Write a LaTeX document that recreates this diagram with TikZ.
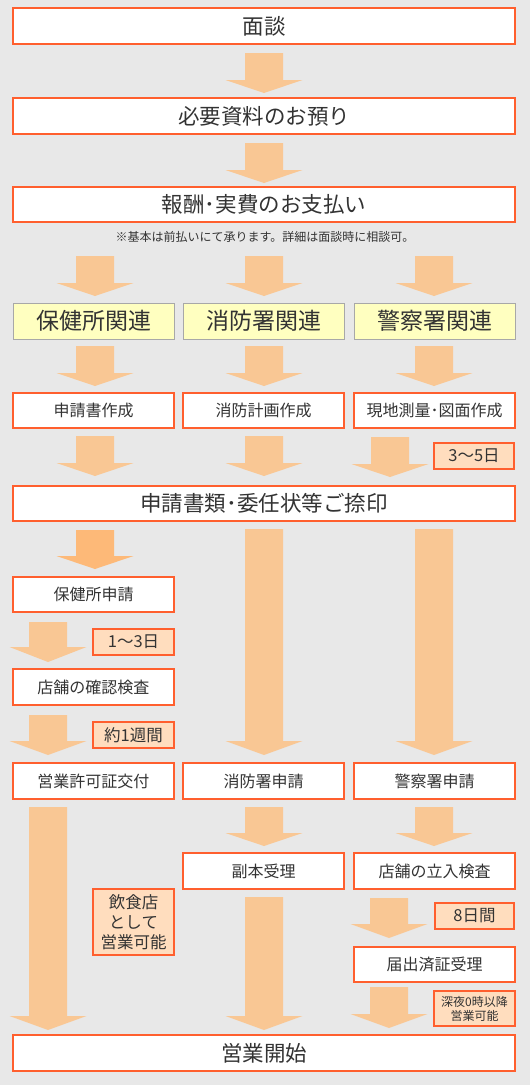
\documentclass[tikz,border=0pt]{standalone}
\usepackage{fontspec}
\setmainfont{Noto Sans CJK JP}
\definecolor{bg}{HTML}{E8E8E8}
\definecolor{bord}{HTML}{FF5F2E}
\definecolor{arr}{HTML}{F9C794}
\definecolor{arrdark}{HTML}{FDB978}
\definecolor{peach}{HTML}{FFDDBE}
\definecolor{yel}{HTML}{FFFFC0}
\definecolor{ygray}{HTML}{A8A8A8}
\definecolor{txt}{HTML}{333333}
\newcommand{\barrow}[5][arr]{%
  \fill[#1] ({#2-19},#3) -- ({#2+19},#3) -- ({#2+19},#4) -- ({#2+38.5},#4) -- (#2,#5) -- ({#2-38.5},#4) -- ({#2-19},#4) -- cycle;}
\newcommand{\bx}[7]{%
  \node[#6, minimum width={#4-#2}, minimum height={#5-#3}] (#1) at ({(#2+#4)/2},{(#3+#5)/2}) {#7};}
\begin{document}
\begin{tikzpicture}[x=1pt,y=-1pt,
  box/.style={draw=bord, fill=white, line width=1.1pt, inner sep=0pt, text=txt, font=\fontsize{16}{18}\selectfont},
  bigbox/.style={box, font=\fontsize{21.5}{24}\selectfont},
  ybox/.style={draw=ygray, fill=yel, line width=1pt, inner sep=0pt, text=black!80, font=\fontsize{23}{26}\selectfont},
  tag/.style={box, fill=peach, align=center, font=\fontsize{16.5}{20}\selectfont},
  note/.style={text=txt, inner sep=0pt, font=\fontsize{12}{14}\selectfont}]
\fill[bg] (0,0) rectangle (530,1085);
\useasboundingbox (0,0) rectangle (530,1085);
% arrows
\barrow{264}{53}{80}{93}
\barrow{264}{143}{170}{183}
\barrow{95}{256}{283}{296}
\barrow{264}{256}{283}{296}
\barrow{434}{256}{283}{296}
\barrow{95}{346}{373}{386}
\barrow{264}{346}{373}{386}
\barrow{434}{346}{373}{386}
\barrow{95}{436}{463}{476}
\barrow{264}{436}{463}{476}
\barrow{390}{437}{464}{477}
\barrow[arrdark]{95}{530}{556}{569}
\barrow{48}{622}{647}{662}
\barrow{48}{715}{741}{755}
\barrow{264}{529}{741}{755}
\barrow{434}{529}{741}{755}
\barrow{48}{807}{1016}{1030}
\barrow{264}{807}{833}{846}
\barrow{434}{807}{833}{846}
\barrow{264}{897}{1016}{1030}
\barrow{389}{898}{924}{938}
\barrow{389}{987}{1014}{1028}
% big boxes
\bx{men}{13}{8}{515}{44}{bigbox}{面談}
\bx{hitsuyo}{13}{98}{515}{134}{bigbox}{必要資料のお預り}
\bx{hoshu}{13}{187}{515}{222}{bigbox}{報酬･実費のお支払い}
\node[note] (nt) at (265,237) {※基本は前払いにて承ります。詳細は面談時に相談可。};
\bx{hokenk}{13}{303}{174}{339}{ybox}{保健所関連}
\bx{shobok}{183}{303}{344}{339}{ybox}{消防署関連}
\bx{keisatsuk}{354}{303}{515}{339}{ybox}{警察署関連}
\bx{shinseisho}{13}{393}{174}{428}{box}{申請書作成}
\bx{shobokeikaku}{183}{393}{344}{428}{box}{消防計画作成}
\bx{genchi}{354}{393}{515}{428}{box}{現地測量･図面作成}
\bx{t35}{434}{443}{514}{469}{tag}{3〜5日}
\bx{natsuin}{13}{486}{515}{521}{bigbox}{申請書類･委任状等ご捺印}
\bx{hokens}{13}{577}{174}{612}{box}{保健所申請}
\bx{t13}{93}{629}{174}{655}{tag}{1〜3日}
\bx{kakunin}{13}{669}{174}{705}{box}{店舗の確認検査}
\bx{t1w}{93}{722}{174}{748}{tag}{約1週間}
\bx{kyoka}{13}{763}{174}{799}{box}{営業許可証交付}
\bx{shobos}{183}{763}{344}{799}{box}{消防署申請}
\bx{keisatsus}{354}{763}{515}{799}{box}{警察署申請}
\bx{inshoku}{93}{889}{174}{955}{tag}{飲食店\\として\\営業可能}
\bx{fukuhon}{183}{853}{344}{889}{box}{副本受理}
\bx{tachiiri}{354}{853}{515}{889}{box}{店舗の立入検査}
\bx{t8}{435}{903}{514}{929}{tag}{8日間}
\bx{todoke}{354}{947}{515}{982}{box}{届出済証受理}
\bx{shinya}{434}{991}{515}{1026}{tag, font=\fontsize{12}{14}\selectfont}{深夜0時以降\\営業可能}
\bx{kaishi}{13}{1035}{515}{1071}{bigbox}{営業開始}
\end{tikzpicture}
\end{document}
